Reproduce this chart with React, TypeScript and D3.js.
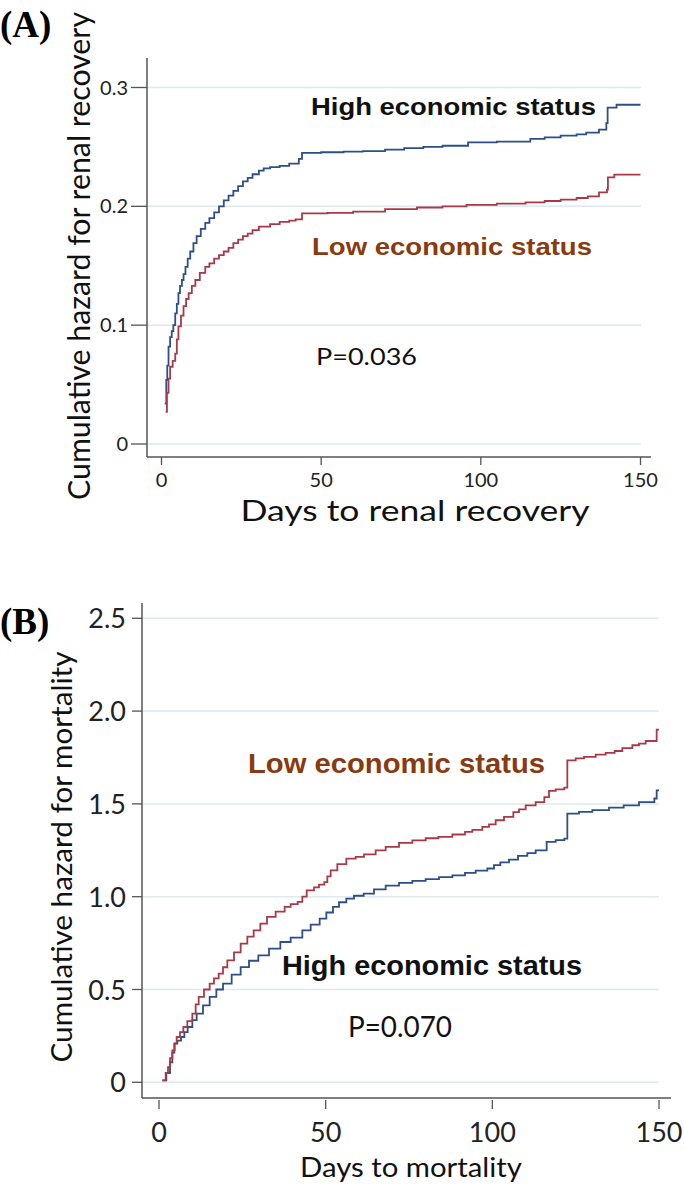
import React from "react";
import * as d3 from "d3";

// ---------- Panel A: renal recovery ----------
const daysAHigh = [1, 1.5, 1.8, 2.2, 2.7, 3.2, 3.7, 4.3, 4.8, 5.3, 5.8, 6.4, 6.9, 7.5, 8.2, 9, 10, 11, 12.3, 13.7, 15, 16.5, 18, 19.5, 21, 22.5, 24, 25.5, 27, 28.5, 30.5, 32, 34, 37, 40, 43, 44, 50, 57, 63, 70, 76, 82, 88, 96, 105, 115.5, 120, 125, 130, 133, 137, 139.3, 139.7, 142.5, 150];
const hazAHigh = [0.034, 0.054, 0.066, 0.082, 0.09, 0.095, 0.1, 0.11, 0.118, 0.127, 0.133, 0.138, 0.143, 0.149, 0.156, 0.162, 0.169, 0.175, 0.181, 0.186, 0.19, 0.195, 0.2, 0.205, 0.209, 0.213, 0.217, 0.221, 0.224, 0.227, 0.23, 0.232, 0.233, 0.234, 0.236, 0.24, 0.245, 0.2455, 0.246, 0.2465, 0.2477, 0.249, 0.25, 0.251, 0.2538, 0.2545, 0.2567, 0.258, 0.2595, 0.2605, 0.262, 0.2645, 0.27, 0.283, 0.2855, 0.2855];
const daysALow = [1.3, 1.7, 2.2, 2.7, 3.5, 4.3, 4.8, 5.3, 6.1, 6.9, 7.7, 8.5, 9.5, 10.6, 12, 13.7, 15, 16.5, 18, 19.5, 21, 22.5, 24, 25.5, 27, 28.5, 30.5, 34, 37, 40, 42, 44, 52, 60, 70, 80, 88, 95.5, 105, 114, 120, 125, 130, 133.5, 137, 139.5, 139.8, 141.8, 150];
const hazALow = [0.027, 0.043, 0.055, 0.065, 0.07, 0.076, 0.088, 0.099, 0.108, 0.116, 0.122, 0.127, 0.133, 0.138, 0.144, 0.149, 0.152, 0.156, 0.159, 0.162, 0.165, 0.169, 0.172, 0.175, 0.177, 0.18, 0.183, 0.185, 0.187, 0.188, 0.189, 0.194, 0.1945, 0.1955, 0.1977, 0.199, 0.2, 0.2013, 0.2022, 0.2033, 0.2045, 0.2056, 0.207, 0.2083, 0.2117, 0.214, 0.2243, 0.2266, 0.2266];
const yTicksA = [0, 0.1, 0.2, 0.3];
const yTickLabelsA = ["0", "0.1", "0.2", "0.3"];
const xTicks = [0, 50, 100, 150];

// ---------- Panel B: mortality ----------
const daysBLow = [1, 2, 2.7, 3.3, 4, 4.7, 5.3, 6.3, 7.3, 8.5, 10, 11, 11.9, 13.5, 15.2, 16.5, 17.9, 19.2, 20.5, 22.5, 24.5, 26.5, 28.4, 30.4, 32.4, 35, 37.7, 39.5, 41.6, 43, 44.3, 46.5, 48, 49.6, 50.5, 51.5, 53.5, 56.2, 59, 61.5, 65, 68, 72, 76, 80, 83.8, 88, 91.8, 94, 97, 99, 101, 103.5, 106.3, 108, 110, 113, 115.6, 117, 119, 121.6, 122.5, 125, 127.5, 131, 134, 136.7, 139, 142, 144, 146, 149.3, 150];
const hazBLow = [0.01, 0.05, 0.082, 0.13, 0.172, 0.21, 0.244, 0.27, 0.298, 0.33, 0.37, 0.42, 0.46, 0.5, 0.532, 0.56, 0.586, 0.62, 0.657, 0.7, 0.747, 0.785, 0.819, 0.855, 0.891, 0.92, 0.945, 0.96, 0.972, 1.0, 1.034, 1.05, 1.065, 1.079, 1.11, 1.142, 1.175, 1.205, 1.215, 1.228, 1.25, 1.268, 1.29, 1.304, 1.315, 1.322, 1.335, 1.349, 1.36, 1.376, 1.39, 1.412, 1.43, 1.456, 1.47, 1.492, 1.51, 1.537, 1.57, 1.578, 1.588, 1.735, 1.745, 1.753, 1.765, 1.775, 1.785, 1.8, 1.816, 1.825, 1.839, 1.9, 1.9];
const daysBHigh = [1, 2.2, 3.3, 4, 4.6, 5.5, 6.6, 7.6, 8.6, 10, 11.3, 13.2, 15.2, 17.2, 19.2, 21.8, 24.5, 27, 29.8, 33, 36.4, 39.5, 43, 45.5, 48.2, 50.2, 52.2, 54, 56.2, 58.5, 61.4, 64.5, 68, 72, 76, 80, 84, 88, 91.8, 95, 98.5, 100.5, 102.4, 105, 107.7, 110.5, 113, 116.3, 119, 121.6, 122.5, 126, 130, 135, 139.4, 144, 148.6, 149.3, 150];
const hazBHigh = [0.01, 0.05, 0.108, 0.16, 0.208, 0.225, 0.244, 0.27, 0.298, 0.335, 0.37, 0.415, 0.46, 0.5, 0.532, 0.58, 0.621, 0.655, 0.684, 0.72, 0.756, 0.78, 0.819, 0.85, 0.882, 0.915, 0.945, 0.97, 0.99, 1.005, 1.017, 1.04, 1.06, 1.075, 1.085, 1.095, 1.105, 1.115, 1.128, 1.14, 1.152, 1.17, 1.185, 1.2, 1.22, 1.235, 1.25, 1.295, 1.305, 1.313, 1.448, 1.457, 1.466, 1.48, 1.492, 1.51, 1.529, 1.573, 1.573];
const yTicksB = [0, 0.5, 1, 1.5, 2, 2.5];
const yTickLabelsB = ["0", "0.5", "1.0", "1.5", "2.0", "2.5"];

const BLUE = "#2d4f86";
const RED = "#a83a48";
const BROWN = "#8a3a10";
const GRID = "#dde9ee";
const AXIS = "#555";
const TICKFONT = "Lato, 'Open Sans', sans-serif";
const LABELFONT = "'Liberation Sans', Arial, sans-serif";

function stepPath(days: number[], vals: number[], x: d3.ScaleLinear<number, number>, y: d3.ScaleLinear<number, number>) {
  const pts: [number, number][] = days.map((d, i) => [d, vals[i]]);
  return d3
    .line<[number, number]>()
    .x((p) => x(p[0]))
    .y((p) => y(p[1]))
    .curve(d3.curveStepAfter)(pts) as string;
}

export default function App() {
  // Panel A scales
  const xA = d3.scaleLinear().domain([0, 150]).range([161.5, 640.5]);
  const yA = d3.scaleLinear().domain([0, 0.3]).range([444, 87.5]);
  // Panel B scales
  const xB = d3.scaleLinear().domain([0, 150]).range([159, 659]);
  const yB = d3.scaleLinear().domain([0, 2.5]).range([1082.3, 618.3]);

  return (
    <svg width={685} height={1188} style={{ position: "absolute", left: 0, top: 0, background: "#fff" }}>
      <rect x={0} y={0} width={685} height={1188} fill="#fff" />
      {/* ================= Panel A ================= */}
      <text x={0} y={37} fontFamily="'Liberation Serif', 'Times New Roman', serif" fontWeight="bold" fontSize={37} fill="#000">(A)</text>
      {yTicksA.map((t) => (
        <line key={"ga" + t} x1={147} x2={641} y1={yA(t)} y2={yA(t)} stroke={GRID} strokeWidth={1.5} />
      ))}
      <path d={stepPath(daysAHigh, hazAHigh, xA, yA)} fill="none" stroke={BLUE} strokeWidth={1.8} />
      <path d={stepPath(daysALow, hazALow, xA, yA)} fill="none" stroke={RED} strokeWidth={1.8} />
      <line x1={147} x2={147} y1={58} y2={457} stroke={AXIS} strokeWidth={1.5} />
      <line x1={147} x2={651} y1={457} y2={457} stroke={AXIS} strokeWidth={1.5} />
      {yTicksA.map((t, i) => (
        <g key={"ya" + t}>
          <line x1={131} x2={147} y1={yA(t)} y2={yA(t)} stroke={AXIS} strokeWidth={1.3} />
          <text x={128} y={yA(t) + 7} textAnchor="end" fontFamily={TICKFONT} fontSize={20} fill="#222">{yTickLabelsA[i]}</text>
        </g>
      ))}
      {xTicks.map((t) => (
        <g key={"xa" + t}>
          <line x1={xA(t)} x2={xA(t)} y1={457} y2={465} stroke={AXIS} strokeWidth={1.3} />
          <text x={xA(t)} y={487} textAnchor="middle" fontFamily={TICKFONT} fontSize={20} fill="#222">{t}</text>
        </g>
      ))}
      <text x={415} y={521} textAnchor="middle" fontFamily={TICKFONT} fontSize={29} textLength={349} lengthAdjust="spacingAndGlyphs" fill="#111">Days to renal recovery</text>
      <text transform="translate(90,256) rotate(-90)" textAnchor="middle" fontFamily={TICKFONT} fontSize={30} textLength={488} lengthAdjust="spacingAndGlyphs" fill="#111">Cumulative hazard for renal recovery</text>
      <text x={311} y={115} fontFamily={LABELFONT} fontWeight="bold" fontSize={23} textLength={285} lengthAdjust="spacingAndGlyphs" fill="#111">High economic status</text>
      <text x={312} y={255} fontFamily={LABELFONT} fontWeight="bold" fontSize={23} textLength={280} lengthAdjust="spacingAndGlyphs" fill={BROWN}>Low economic status</text>
      <text x={316} y={365} fontFamily={TICKFONT} fontSize={24} textLength={101} lengthAdjust="spacingAndGlyphs" fill="#111">P=0.036</text>

      {/* ================= Panel B ================= */}
      <text x={0} y={634} fontFamily="'Liberation Serif', 'Times New Roman', serif" fontWeight="bold" fontSize={37} fill="#000">(B)</text>
      {yTicksB.map((t) => (
        <line key={"gb" + t} x1={142} x2={659} y1={yB(t)} y2={yB(t)} stroke={GRID} strokeWidth={1.5} />
      ))}
      <path d={stepPath(daysBHigh, hazBHigh, xB, yB)} fill="none" stroke={BLUE} strokeWidth={1.8} />
      <path d={stepPath(daysBLow, hazBLow, xB, yB)} fill="none" stroke={RED} strokeWidth={1.8} />
      <line x1={142} x2={142} y1={603} y2={1098} stroke={AXIS} strokeWidth={1.5} />
      <line x1={142} x2={671} y1={1098} y2={1098} stroke={AXIS} strokeWidth={1.5} />
      {yTicksB.map((t, i) => (
        <g key={"yb" + t}>
          <line x1={132} x2={142} y1={yB(t)} y2={yB(t)} stroke={AXIS} strokeWidth={1.3} />
          <text x={126} y={yB(t) + 10} textAnchor="end" fontFamily={TICKFONT} fontSize={27} fill="#222">{yTickLabelsB[i]}</text>
        </g>
      ))}
      {xTicks.map((t) => (
        <g key={"xb" + t}>
          <line x1={xB(t)} x2={xB(t)} y1={1100} y2={1109} stroke={AXIS} strokeWidth={1.3} />
          <text x={xB(t)} y={1142} textAnchor="middle" fontFamily={TICKFONT} fontSize={27} fill="#222">{t}</text>
        </g>
      ))}
      <text x={411} y={1177} textAnchor="middle" fontFamily={TICKFONT} fontSize={27} textLength={222} lengthAdjust="spacingAndGlyphs" fill="#111">Days to mortality</text>
      <text transform="translate(72,857) rotate(-90)" textAnchor="middle" fontFamily={TICKFONT} fontSize={28} textLength={411} lengthAdjust="spacingAndGlyphs" fill="#111">Cumulative hazard for mortality</text>
      <text x={248} y={773} fontFamily={LABELFONT} fontWeight="bold" fontSize={28} textLength={297} lengthAdjust="spacingAndGlyphs" fill={BROWN}>Low economic status</text>
      <text x={282} y={975} fontFamily={LABELFONT} fontWeight="bold" fontSize={28} textLength={300} lengthAdjust="spacingAndGlyphs" fill="#111">High economic status</text>
      <text x={348} y={1037} fontFamily={TICKFONT} fontSize={29} textLength={104} lengthAdjust="spacingAndGlyphs" fill="#111">P=0.070</text>
    </svg>
  );
}
